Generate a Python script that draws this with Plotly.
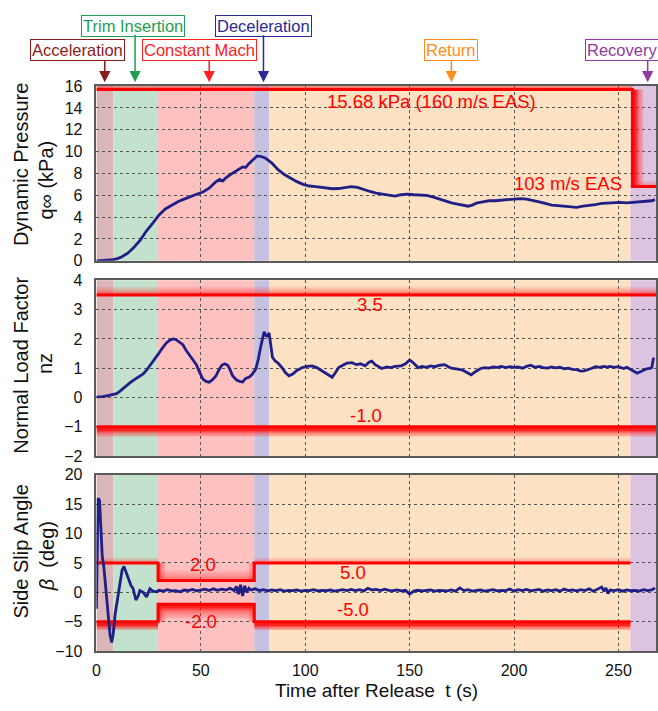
import plotly.graph_objects as go

# ---------------- data ----------------
# flight phases (start/end time, s)
phase_names = ["Acceleration", "Trim Insertion", "Constant Mach", "Deceleration", "Return", "Recovery"]
phase_edges = [0.0, 8.1, 29.5, 75.6, 82.7, 255.8, 268.0]
phase_arrow_t = [4.0, 18.5, 54.0, 80.0, 170.0, 264.0]

# dynamic pressure q (kPa)
t_q = [0, 3, 6, 8, 10, 12, 15, 18, 21, 24, 27, 30, 33, 36, 39, 42, 45, 48, 51, 54, 57, 59,
       60.5, 62, 65, 68, 70, 71.5, 73, 75, 77, 79, 81, 84, 87, 90, 93, 96, 99, 102, 105, 108,
       110, 113, 116, 119, 122, 125, 128, 131, 134, 137, 140, 143, 146, 149, 152, 155, 158,
       161, 164, 167, 170, 173, 176, 178, 180, 182, 185, 188, 191, 194, 197, 200, 203, 206,
       209, 212, 215, 218, 221, 224, 227, 230, 233, 236, 239, 242, 245, 248, 251, 254, 257,
       260, 263, 266, 267.5]
q_val = [0.0, 0.02, 0.06, 0.1, 0.2, 0.35, 0.7, 1.25, 1.9, 2.75, 3.45, 4.2, 4.75, 5.1, 5.4, 5.65,
         5.9, 6.1, 6.3, 6.65, 7.2, 7.45, 7.3, 7.6, 8.0, 8.4, 8.6, 8.55, 8.9, 9.25, 9.6, 9.55,
         9.4, 8.95, 8.35, 7.9, 7.55, 7.25, 7.0, 6.85, 6.8, 6.75, 6.65, 6.6, 6.62, 6.7, 6.8, 6.72,
         6.5, 6.35, 6.2, 6.1, 6.0, 5.93, 6.05, 6.1, 6.05, 6.05, 6.0, 5.85, 5.65, 5.45, 5.3, 5.2,
         5.05, 5.0, 5.1, 5.28, 5.4, 5.5, 5.5, 5.55, 5.65, 5.7, 5.7, 5.65, 5.55, 5.4, 5.25, 5.1,
         5.05, 5.0, 4.95, 4.9, 5.0, 5.05, 5.15, 5.25, 5.3, 5.35, 5.35, 5.3, 5.35, 5.35, 5.4,
         5.5, 5.6]

# normal load factor nz
t_nz = [0, 3, 6, 8, 9.6, 11, 12.5, 14.4, 16, 18, 20, 22.4, 24, 25.6, 27.5, 29.5, 31.5, 33.5,
        35, 36.7, 38, 40, 41.4, 43, 45, 47.8, 49.5, 51, 52.5, 54, 55.5, 57.3, 58.5, 60, 61.5,
        62.9, 64, 65.2, 67, 68.5, 70, 71.5, 73.2, 74.5, 76.3, 77.5, 78.7, 79.5, 80.3, 81.1,
        81.9, 82.7, 83.5, 84.3, 85.5, 86.7, 88.5, 90.5, 92.2, 94, 96, 98.6, 101, 103.3, 105.5,
        108, 110.5, 112.9, 114.5, 116, 118, 120, 122.4, 124.5, 126.5, 128.7, 130.5, 131.9,
        133.5, 135, 136.7, 139, 141, 143, 146, 148, 150, 151.5, 154, 156, 158, 160, 162,
        164.5, 166.8, 168.5, 170, 173, 175.5, 177.5, 179.5, 181.5, 184, 186, 188, 190, 192,
        194, 196, 198, 200, 202, 204, 206, 208, 210, 212, 214, 216, 218, 220, 222, 224, 226,
        228, 230, 232, 233.5, 235, 237, 239, 241, 243, 244.6, 246, 248, 250, 252.5, 254, 256,
        257.5, 259, 260.5, 262, 263.5, 265, 266, 266.8]
nz_val = [0.02, 0.03, 0.07, 0.1, 0.13, 0.2, 0.3, 0.41, 0.5, 0.6, 0.7, 0.8, 0.93, 1.08, 1.27,
          1.47, 1.68, 1.86, 1.95, 2.0, 1.98, 1.88, 1.8, 1.6, 1.4, 1.13, 0.85, 0.63, 0.55, 0.52,
          0.6, 0.74, 0.92, 1.1, 1.15, 1.1, 0.95, 0.74, 0.6, 0.55, 0.53, 0.65, 0.7, 0.78, 0.97,
          1.3, 1.74, 2.05, 2.24, 2.12, 2.1, 2.2, 1.8, 1.37, 1.25, 1.19, 1.05, 0.85, 0.74, 0.8,
          0.92, 1.02, 1.06, 1.08, 1.02, 0.91, 0.8, 0.69, 0.85, 1.02, 1.1, 1.17, 1.19, 1.12,
          1.15, 1.08, 1.2, 1.24, 1.12, 1.05, 0.99, 1.04, 1.02, 1.06, 1.08, 1.15, 1.28, 1.2,
          1.02, 1.06, 1.03, 1.08, 1.05, 1.1, 1.12, 1.05, 1.0, 0.97, 0.93, 0.85, 0.77, 0.88,
          0.99, 1.02, 1.0, 1.04, 1.03, 1.06, 1.02, 1.05, 1.03, 1.04, 1.0, 1.06, 1.1, 1.03,
          1.06, 1.02, 1.0, 1.04, 1.01, 1.03, 0.98, 1.0, 0.96, 0.95, 0.9, 0.91, 0.94, 0.99,
          1.05, 1.03, 1.06, 1.04, 1.06, 1.03, 1.05, 0.99, 1.03, 0.95, 0.9, 0.83, 0.88, 0.92,
          0.98, 0.99, 1.02, 1.36]

# side slip angle beta (deg)
t_beta = [0, 0.4, 0.8, 1.5, 2.2, 2.8, 3.5, 4.5, 5.5, 6.5, 7.3, 8, 9, 9.7, 11.3, 12.3, 13.2,
          14, 14.9, 16.5, 17.5, 18.9, 20, 20.8, 22.4, 24, 25.6, 27, 28.8,
          30, 32, 34, 36, 38, 40, 42, 44, 46, 48, 50, 52, 54, 56, 58, 60, 62, 64, 66, 67, 68,
          69, 70, 71, 72, 73, 74, 76, 78, 80, 82, 84, 86, 88, 90, 92, 94, 96, 98, 100, 102,
          104, 106, 108, 110, 112, 114, 116, 118, 120, 122, 124, 126, 128, 130, 132, 134, 136,
          138, 140, 142, 144, 146, 148, 150, 152, 154, 156, 158, 160, 162, 164, 166, 168, 170,
          172, 174, 176, 178, 180, 182, 184, 186, 188, 190, 192, 194, 196, 198, 200, 202, 204,
          206, 208, 210, 212, 214, 216, 218, 220, 222, 224, 226, 228, 230, 232, 234, 236, 238,
          240, 242, 243, 244, 245, 246, 248, 250, 252, 254, 256, 258, 260, 262, 264, 266, 267.5]
beta_val = [-2.8, 10.0, 16.0, 15.6, 10.5, 6.0, 4.5, 0.5, -4.0, -7.2, -8.5, -7.2, -3.6, -2.0,
            2.3, 3.8, 4.4, 3.6, 2.5, 1.2, 0.7, -1.3, -0.6, 0.3, 0.0, -0.8, 0.6, 0.2, 0.1,
            0.35, 0.2, 0.45, 0.25, 0.3, 0.1, 0.4, 0.3, 0.5, 0.25, 0.4, 0.55, 0.3, 0.6, 0.35,
            0.55, 0.4, 0.7, 0.3, 1.0, -0.3, 1.3, -0.6, 1.1, 0.0, 0.7, 0.4, 0.6, 0.3, 0.45,
            0.25, 0.4, 0.3, 0.45, 0.2, 0.35, 0.3, 0.4, 0.2, 0.35, 0.3, 0.45, 0.25, 0.35, 0.3,
            0.4, 0.2, 0.35, 0.45, 0.3, 0.5, 0.3, 0.45, 0.25, 0.7, 0.4, 0.5, 0.3, 0.55, 0.35,
            0.3, 0.4, 0.25, 0.35, -0.3, 0.2, 0.35, 0.25, 0.3, 0.4, 0.2, 0.35, 0.3, 0.25, 0.4,
            0.2, 0.75, 0.3, 0.45, 0.2, 0.35, 0.4, 0.2, 0.35, 0.45, 0.25, 0.35, 0.3, 0.55, 0.2,
            0.45, 0.3, 0.5, 0.25, 0.35, 0.5, 0.2, 0.4, 0.3, 0.45, 0.2, 0.55, 0.3, 0.4, 0.25,
            0.45, 0.3, 0.6, 0.2, 0.5, 0.9, 0.2, 0.75, -0.2, 0.4, 0.3, 0.45, 0.2, 0.4, 0.3,
            0.35, 0.2, 0.45, 0.3, 0.4, 0.75]

# limit values
q_limit = 15.68
q_recovery_limit = 6.8
q_step_t = 256.7
nz_upper, nz_lower = 3.5, -1.0
beta_limit, beta_notch = 5.0, 2.0

# ---------------- styling ----------------
W, H = 658, 711
FONT = "Liberation Sans, Arial, sans-serif"
phase_fill = ["#dbb6b9", "#c3e2cd", "#ffc0c0", "#c5c1e1", "#fde1c3", "#dcc3e1"]
phase_text = ["#8b1c1c", "#1f9e52", "#ff2020", "#2a2a96", "#ff8c1a", "#8e3aa0"]
CURVE = "#1f1f85"
RED = "#ff0000"

PX_L, PX_R = 93, 656
panels = [(80, 259), (279, 459), (478, 659)]  # top/bottom pixel rows


def fx(p):
    return p / W


def fy(p):
    return 1 - p / H


fig = go.Figure()

# phase shading for each panel
for i, (top, bot) in enumerate(panels):
    yref = "y domain" if i == 0 else f"y{i + 1} domain"
    xref = "x" if i == 0 else f"x{i + 1}"
    for k in range(len(phase_names)):
        fig.add_shape(type="rect", xref=xref, yref=yref,
                      x0=phase_edges[k], x1=phase_edges[k + 1], y0=0, y1=1,
                      fillcolor=phase_fill[k], line_width=0, layer="below")

GLOW = [[0, "rgba(255,0,0,0.85)"], [0.3, "rgba(255,30,30,0.45)"], [1, "rgba(255,90,90,0)"]]


def rev(cs):
    return [[1 - p, c] for p, c in reversed(cs)]


def hglow(x0, x1, y, depth, xa, ya):
    lo, hi = min(y, y + depth), max(y, y + depth)
    cs = GLOW if depth > 0 else rev(GLOW)
    fig.add_trace(go.Scatter(
        x=[x0, x1, x1, x0, x0], y=[lo, lo, hi, hi, lo], mode="lines", line_width=0,
        fill="toself", fillgradient=dict(type="vertical", colorscale=cs, start=lo, stop=hi),
        xaxis=xa, yaxis=ya, hoverinfo="skip", showlegend=False))


def vglow(x, y0, y1, depth, xa, ya):
    lo, hi = min(x, x + depth), max(x, x + depth)
    cs = GLOW if depth > 0 else rev(GLOW)
    fig.add_trace(go.Scatter(
        x=[lo, hi, hi, lo, lo], y=[y0, y0, y1, y1, y0], mode="lines", line_width=0,
        fill="toself", fillgradient=dict(type="horizontal", colorscale=cs, start=lo, stop=hi),
        xaxis=xa, yaxis=ya, hoverinfo="skip", showlegend=False))


def core(xs, ys, xa, ya):
    fig.add_trace(go.Scatter(x=xs, y=ys, mode="lines", line=dict(color=RED, width=3),
                             xaxis=xa, yaxis=ya, hoverinfo="skip", showlegend=False))


T_END = phase_edges[-1]
T_TRIM, T_DEC, T_RET = phase_edges[2], phase_edges[3], phase_edges[5]

# panel 1 limits
hglow(0, q_step_t, q_limit, 0.8, "x", "y")
vglow(q_step_t, q_recovery_limit, q_limit, 5.2, "x", "y")
hglow(q_step_t, T_END, q_recovery_limit, 0.8, "x", "y")
core([0, q_step_t, q_step_t, T_END], [q_limit, q_limit, q_recovery_limit, q_recovery_limit], "x", "y")

# panel 2 limits
hglow(0, T_END, nz_upper, 0.33, "x2", "y2")
hglow(0, T_END, nz_lower, -0.33, "x2", "y2")
core([0, T_END], [nz_upper, nz_upper], "x2", "y2")
core([0, T_END], [nz_lower, nz_lower], "x2", "y2")

# panel 3 limits (notched during constant Mach)
for s in (1, -1):
    hglow(0, T_TRIM, s * beta_limit, s * 1.4, "x3", "y3")
    hglow(T_TRIM, T_DEC, s * beta_notch, s * 2.4, "x3", "y3")
    hglow(T_DEC, T_RET, s * beta_limit, s * 1.4, "x3", "y3")
    vglow(T_TRIM, min(s * beta_notch, s * beta_limit), max(s * beta_notch, s * beta_limit), 4.0, "x3", "y3")
    vglow(T_DEC, min(s * beta_notch, s * beta_limit), max(s * beta_notch, s * beta_limit), -4.0, "x3", "y3")
    core([0, T_TRIM, T_TRIM, T_DEC, T_DEC, T_RET],
         [s * beta_limit, s * beta_limit, s * beta_notch, s * beta_notch, s * beta_limit, s * beta_limit],
         "x3", "y3")

# measured curves
for xs, ys, xa, ya in [(t_q, q_val, "x", "y"), (t_nz, nz_val, "x2", "y2"), (t_beta, beta_val, "x3", "y3")]:
    fig.add_trace(go.Scatter(x=xs, y=ys, mode="lines", line=dict(color=CURVE, width=2.8),
                             xaxis=xa, yaxis=ya, showlegend=False))

# axes
axis_common = dict(showline=True, mirror=True, linecolor="#5a5a5a", linewidth=1.5,
                   showgrid=True, gridcolor="#555555", griddash="dot", gridwidth=1,
                   zeroline=False, ticks="", tickfont=dict(family=FONT, size=16, color="#111"))
x_dom = [fx(PX_L), fx(PX_R)]
ranges = [(0, 16, 2), (-2, 4, 1), (-10, 20, 5)]
layout_axes = {}
for i, (top, bot) in enumerate(panels):
    sfx = "" if i == 0 else str(i + 1)
    layout_axes[f"xaxis{sfx}"] = dict(axis_common, domain=x_dom, anchor=f"y{sfx}",
                                      range=[0, T_END], tickmode="array",
                                      tickvals=[0, 50, 100, 150, 200, 250],
                                      showticklabels=(i == 2), ticklabelstandoff=4)
    lo, hi, dt = ranges[i]
    layout_axes[f"yaxis{sfx}"] = dict(axis_common, domain=[fy(bot), fy(top)], anchor=f"x{sfx}",
                                      range=[lo, hi], dtick=dt, tick0=lo, ticklabelstandoff=9)

fig.update_layout(width=W, height=H, margin=dict(l=0, r=0, t=0, b=0),
                  paper_bgcolor="white", plot_bgcolor="white",
                  font=dict(family=FONT), **layout_axes)

ann = []
# red limit labels
red_labels = [("15.68 kPa (160 m/s EAS)", 160.5, 14.57, "x", "y"),
              ("103 m/s EAS", 226.0, 7.06, "x", "y"),
              ("3.5", 131.0, 3.17, "x2", "y2"),
              ("-1.0", 129.0, -0.63, "x2", "y2"),
              ("2.0", 51.0, 4.77, "x3", "y3"),
              ("-2.0", 50.0, -4.95, "x3", "y3"),
              ("5.0", 123.0, 3.36, "x3", "y3"),
              ("-5.0", 123.0, -2.96, "x3", "y3")]
for txt, x, y, xa, ya in red_labels:
    ann.append(dict(text=txt, x=x, y=y, xref=xa, yref=ya, showarrow=False,
                    font=dict(family=FONT, size=18.5, color=RED)))

# y-axis titles (two lines each)
ytitles = [("Dynamic Pressure", 17, 160), ("q∞ (kPa)", 42, 176),
           ("Normal Load Factor", 17.5, 366), ("nz", 42, 364),
           ("Side Slip Angle", 17, 556), ("<i>β</i>  (deg)", 43, 562)]
for txt, x, y in ytitles:
    ann.append(dict(text=txt, x=fx(x), y=fy(y), xref="paper", yref="paper", showarrow=False,
                    textangle=-90, xanchor="center", yanchor="middle",
                    font=dict(family=FONT, size=20, color="#111")))

ann.append(dict(text="Time after Release  t (s)", x=fx((PX_L + PX_R) / 2), y=fy(699),
                xref="paper", yref="paper", showarrow=False, xanchor="center", yanchor="middle",
                font=dict(family=FONT, size=19, color="#111")))

# phase call-outs with arrows
box_centers = [(74, 43.5), (130, 18), (196.5, 43.5), (261.5, 18.5), (450, 43.5), (622, 43.5)]
for k, name in enumerate(phase_names):
    cx, cy = box_centers[k]
    col = phase_text[k]
    ann.append(dict(text=name, x=fx(cx), y=fy(cy), xref="paper", yref="paper", showarrow=False,
                    xanchor="center", yanchor="middle", bgcolor="white", bordercolor=col,
                    borderwidth=1, borderpad=1, font=dict(family=FONT, size=16.5, color=col)))
    tip = 76
    start = cy + 9
    ann.append(dict(text="", x=phase_arrow_t[k], y=fy(tip), xref="x", yref="paper",
                    ax=0, ay=-(tip - start), axref="pixel", ayref="pixel", showarrow=True,
                    arrowhead=2, arrowsize=1.5, arrowwidth=1.5, arrowcolor=col, standoff=0))

fig.update_layout(annotations=ann)
fig.write_html("out.html")
